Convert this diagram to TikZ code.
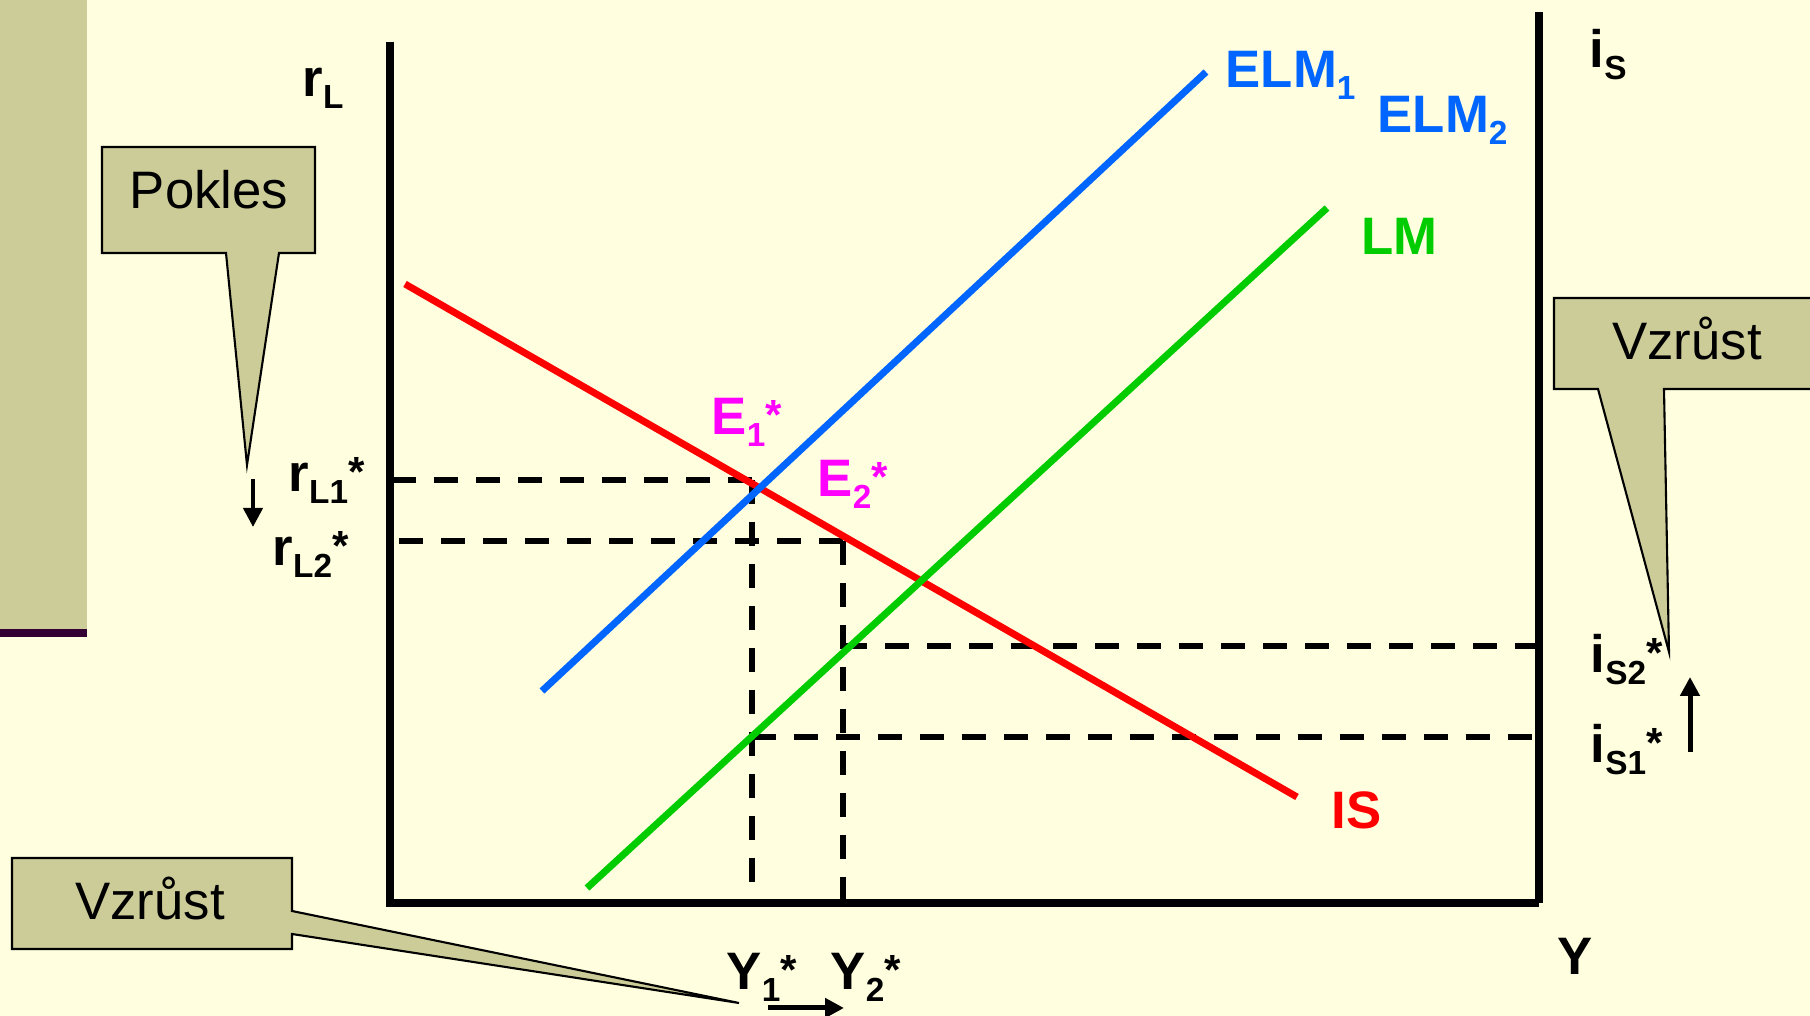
\documentclass[tikz,border=0pt]{standalone}
\usepackage{fontspec}
\setmainfont{Liberation Sans}
\usetikzlibrary{arrows.meta}
\definecolor{paper}{RGB}{255,255,224}
\definecolor{khaki}{RGB}{204,204,153}
\definecolor{plum}{RGB}{51,0,51}
\definecolor{elmblue}{RGB}{0,102,255}
\definecolor{lmgreen}{RGB}{0,204,0}
\definecolor{eqpink}{RGB}{255,0,255}
\newcommand{\lowtxt}[1]{\raisebox{-3.4pt}{\fontsize{9.5pt}{9.5pt}\selectfont #1}}
\newcommand{\startxt}{\raisebox{1.6pt}{\fontsize{12pt}{12pt}\selectfont *}}

\begin{document}
\begin{tikzpicture}[
    x=0.1mm, y=-0.1mm,
    every node/.style={font=\fontsize{15pt}{18pt}\selectfont\bfseries, inner sep=0pt, anchor=base west},
    axisline/.style={line width=0.75mm},
    curveline/.style={line width=0.7mm},
    guide/.style={line width=0.55mm, dash pattern=on 2.4mm off 1.8mm},
    callout/.style={draw, line width=0.6pt, fill=khaki},
    note/.style={font=\fontsize{15pt}{18pt}\selectfont, anchor=base},
    move/.style={-{Triangle[length=1.9mm, width=1.9mm]}}
]

\useasboundingbox (0,0) rectangle (1810,1016);
\clip (0,0) rectangle (1810,1016);
\fill[paper] (0,0) rectangle (1810,1016);
\fill[khaki] (0,0) rectangle (87,629);
\fill[plum] (0,629) rectangle (87,637);

\coordinate (top) at (390,42);
\coordinate (origin) at (390,903);
\coordinate (xend) at (1539,903);
\coordinate (rtop) at (1539,12);

\draw[axisline] (top) -- (origin) -- (xend);
\draw[axisline] (rtop) -- (xend);

\coordinate (is1) at (405,284);
\coordinate (is2) at (1297,797);
\coordinate (elm1) at (542,691);
\coordinate (elm2) at (1206,72);
\coordinate (lm1) at (587,888);
\coordinate (lm2) at (1327,208);

\coordinate (c1) at (752,480);
\coordinate (c2) at (843,541);
\coordinate (c3) at (843,646);
\coordinate (c4) at (752,737);

\draw[guide] (c1) -- (c1 -| origin);
\draw[guide] (c1) -- (c1 |- origin);
\draw[guide] (c2) -- (c2 -| origin);
\draw[guide] (c2) -- (c2 |- origin);
\draw[guide] (c3) -- (c3 -| xend);
\draw[guide] (c4) -- (c4 -| xend);

\draw[curveline, red] (is1) -- (is2);
\draw[curveline, elmblue] (elm1) -- (elm2);
\draw[curveline, lmgreen] (lm1) -- (lm2);

\node (rl) at (302,97) {r\lowtxt{L}};
\node[text=elmblue] (elmA) at (1225,88) {ELM\lowtxt{1}};
\node[text=elmblue] (elmB) at (1377,133) {ELM\lowtxt{2}};
\node[text=lmgreen] (lm) at (1361,255) {LM};
\node[text=red] (is) at (1331,829) {IS};
\node (is0) at (1589,68) {i\lowtxt{S}};
\node (y) at (1557,975) {Y};
\node[text=eqpink] (e1) at (711,435) {E\lowtxt{1}\startxt};
\node[text=eqpink] (e2) at (817,497) {E\lowtxt{2}\startxt};
\node (rl1) at (288,492) {r\lowtxt{L1}\startxt};
\node (rl2) at (272,566) {r\lowtxt{L2}\startxt};
\node (is2s) at (1590,673) {i\lowtxt{S2}\startxt};
\node (is1s) at (1590,763) {i\lowtxt{S1}\startxt};
\node (y1) at (726,990) {Y\lowtxt{1}\startxt};
\node (y2) at (830,990) {Y\lowtxt{2}\startxt};

\draw[callout] (102,147) -- (315,147) -- (315,253) -- (279,253) -- (247,465)
    -- (226,253) -- (102,253) -- cycle;
\draw[callout] (1554,298) -- (1815,298) -- (1815,389) -- (1664,389) -- (1669,652)
    -- (1598,389) -- (1554,389) -- cycle;
\draw[callout] (12,858) -- (292,858) -- (292,911) -- (739,1003) -- (292,934)
    -- (292,949) -- (12,949) -- cycle;

\node[note] (fall) at (209,209) {Pokles};
\node[note] (riseS) at (1687,360) {Vzrůst};
\node[note] (riseY) at (150,920) {Vzrůst};

\coordinate (d1) at (253,479);
\coordinate (d2) at (253,527);
\coordinate (u1) at (1690,752);
\coordinate (u2) at (1690,677);
\coordinate (h1) at (768,1008);
\coordinate (h2) at (844,1008);

\draw[move, line width=0.42mm] (d1) -- (d2);
\draw[move, line width=0.5mm] (u1) -- (u2);
\draw[move, line width=0.5mm] (h1) -- (h2);

\end{tikzpicture}
\end{document}
